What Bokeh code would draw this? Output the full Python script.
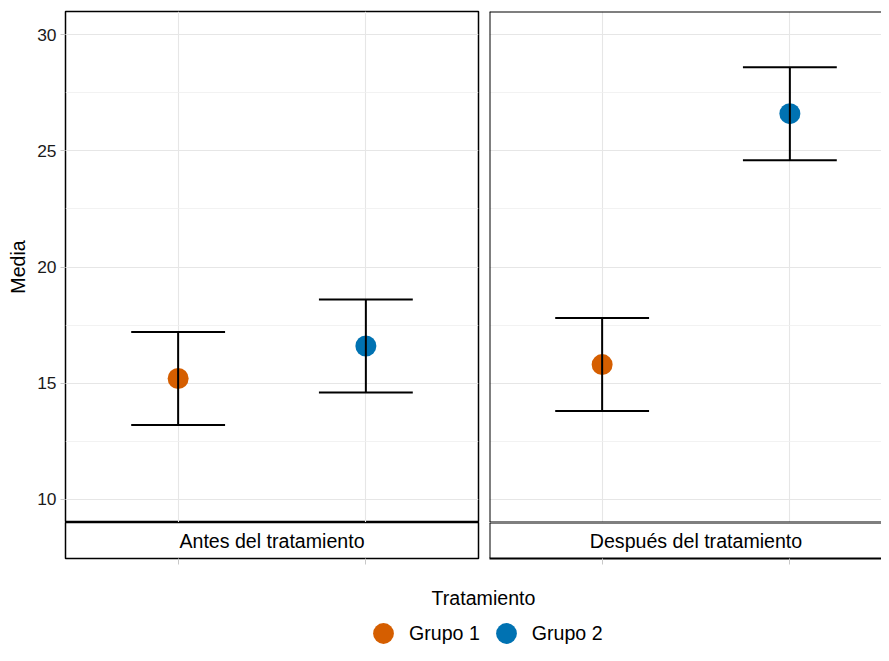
from bokeh.plotting import figure
from bokeh.models import (Range1d, FixedTicker, LinearAxis, Legend, LegendItem,
                          Title, ColumnDataSource)
from bokeh.layouts import row, column
from bokeh.embed import file_html
from bokeh.resources import INLINE
from bokeh.core.properties import value

# ---------------- data ----------------
facets = ["Antes del tratamiento", "Después del tratamiento"]
groups = ["Grupo 1", "Grupo 2"]
means_antes = [15.2, 16.6]
means_despues = [15.8, 26.6]
err_antes = [2.0, 2.0]
err_despues = [2.0, 2.0]
y_ticks = [10, 15, 20, 25, 30]
y_label = "Media"
legend_title = "Tratamiento"
colors = ["#D55E00", "#0072B2"]

# ---------------- style ----------------
FONT = "Liberation Sans"
BIG = "19.6px"
SMALL = "17.4px"
GRID = "#e6e6e6"
MINOR = "#efefef"
TICK = "#c8c8c8"
BORDER_W = 1.5
CAP = 0.5

xpos = [i + 1 for i in range(len(groups))]
X_LO, X_HI = 0.4, len(groups) + 0.6
Y_LO, Y_HI = y_ticks[0] - 0.05 * (y_ticks[-1] - y_ticks[0]), y_ticks[-1] + 0.05 * (y_ticks[-1] - y_ticks[0])
minor_ticks = [(a + b) / 2 for a, b in zip(y_ticks[:-1], y_ticks[1:])]

TOTAL_W = 881
LEFT_W = 487
RIGHT_W = TOTAL_W - LEFT_W
FRAME_W = 413
PANEL_H = 522
STRIP_H = 44
LEGEND_H = 79

yr = Range1d(Y_LO, Y_HI)
xr1 = Range1d(X_LO, X_HI)
xr2 = Range1d(X_LO, X_LO + (X_HI - X_LO) * (RIGHT_W - 2) / FRAME_W)


def border_axis(p, side, loc):
    ax = LinearAxis(fixed_location=loc, ticker=FixedTicker(ticks=[]),
                    major_tick_line_color=None, minor_tick_line_color=None,
                    major_label_text_font_size="0px", major_label_standoff=0,
                    axis_line_color="black", axis_line_width=2)
    p.add_layout(ax, side)


def make_panel(means, errs, xr, width, mb_left, mb_right, first):
    p = figure(width=width, height=PANEL_H, x_range=xr, y_range=yr,
               output_backend="svg", toolbar_location=None,
               x_axis_location=None, y_axis_location="left" if first else None,
               min_border_left=mb_left, min_border_right=mb_right,
               min_border_top=11, min_border_bottom=0)
    p.background_fill_color = "white"
    p.border_fill_color = "white"
    p.ygrid.ticker = FixedTicker(ticks=y_ticks, minor_ticks=minor_ticks)
    p.ygrid.grid_line_color = GRID
    p.ygrid.grid_line_width = 1.1
    p.ygrid.minor_grid_line_color = MINOR
    p.ygrid.minor_grid_line_width = 0.8
    p.xgrid.ticker = FixedTicker(ticks=xpos)
    p.xgrid.grid_line_color = GRID
    p.xgrid.grid_line_width = 1.1

    src = ColumnDataSource(dict(
        x=xpos, y=means, color=colors,
        lo=[m - e for m, e in zip(means, errs)],
        hi=[m + e for m, e in zip(means, errs)],
        x0=[x - CAP / 2 for x in xpos],
        x1=[x + CAP / 2 for x in xpos],
    ))
    p.scatter("x", "y", size=21, fill_color="color", line_color=None, source=src)
    p.segment("x", "lo", "x", "hi", line_color="black", line_width=2, source=src)
    p.segment("x0", "hi", "x1", "hi", line_color="black", line_width=2, source=src)
    p.segment("x0", "lo", "x1", "lo", line_color="black", line_width=2, source=src)

    if first:
        ax = p.yaxis[0]
        ax.ticker = FixedTicker(ticks=y_ticks)
        ax.axis_label = y_label
        ax.axis_label_text_font = FONT
        ax.axis_label_text_font_size = BIG
        ax.axis_label_text_font_style = "normal"
        ax.axis_label_text_color = "black"
        ax.axis_label_standoff = 5
        ax.major_label_text_font = FONT
        ax.major_label_text_font_size = SMALL
        ax.major_label_text_color = "#1a1a1a"
        ax.major_label_standoff = 4
        ax.major_tick_out = 5
        ax.major_tick_in = 0
        ax.major_tick_line_color = TICK
        ax.minor_tick_line_color = None
        ax.axis_line_color = None
        p.outline_line_color = "black"
        p.outline_line_width = BORDER_W
    else:
        p.outline_line_color = None
        border_axis(p, "left", xr.start)
        border_axis(p, "above", Y_HI)
        border_axis(p, "below", Y_LO)
    return p


def make_strip(label, xr, width, mb_left, mb_right, first):
    s = figure(width=width, height=STRIP_H, x_range=xr, y_range=Range1d(0, 1),
               output_backend="svg", toolbar_location=None,
               y_axis_location=None, x_axis_location="below",
               min_border_left=mb_left, min_border_right=mb_right,
               min_border_top=0, min_border_bottom=8)
    s.grid.visible = False
    s.background_fill_color = "white"
    s.border_fill_color = "white"
    ax = s.xaxis[0]
    ax.ticker = FixedTicker(ticks=xpos)
    ax.major_label_overrides = {x: "" for x in xpos}
    ax.major_label_standoff = 0
    ax.major_tick_out = 6
    ax.major_tick_in = 0
    ax.major_tick_line_color = TICK
    ax.minor_tick_line_color = None
    s.text(x=[(X_LO + X_HI) / 2], y=[0.5], text=[label],
           text_align="center", text_baseline="middle",
           text_font=value(FONT), text_font_size=BIG, text_color="black")
    if first:
        ax.axis_line_color = None
        s.outline_line_color = "black"
        s.outline_line_width = BORDER_W
    else:
        ax.axis_line_color = "black"
        ax.axis_line_width = 2
        s.outline_line_color = None
        border_axis(s, "left", xr.start)
        border_axis(s, "above", 1)
    return s


p1 = make_panel(means_antes, err_antes, xr1, LEFT_W, 65, 9, True)
p2 = make_panel(means_despues, err_despues, xr2, RIGHT_W, 2, 0, False)
s1 = make_strip(facets[0], xr1, LEFT_W, 65, 9, True)
s2 = make_strip(facets[1], xr2, RIGHT_W, 2, 0, False)

# ---------------- legend ----------------
LG_LEFT = 85
lg = figure(width=TOTAL_W, height=LEGEND_H, x_range=Range1d(0, 1), y_range=Range1d(0, 1),
            output_backend="svg", toolbar_location=None,
            x_axis_location=None, y_axis_location=None,
            min_border_left=LG_LEFT, min_border_right=0, min_border_top=55, min_border_bottom=0)
lg.grid.visible = False
lg.outline_line_color = None
items = []
for g, c, x, m in zip(groups, colors, xpos, means_antes):
    r = lg.scatter(x=[x], y=[m], size=21, fill_color=c, line_color=None, visible=False)
    items.append(LegendItem(label=g, renderers=[r]))
legend = Legend(items=items, orientation="horizontal", location=(272, -14), margin=0,
                glyph_width=52, glyph_height=52, label_standoff=0, spacing=0,
                padding=10, border_line_color=None, background_fill_alpha=0,
                label_text_font=FONT, label_text_font_size=BIG, label_text_color="black")
lg.add_layout(legend, "center")
lg.add_layout(Title(text=legend_title, align="center", text_font=FONT, text_font_size=BIG,
                    text_font_style="normal", text_color="black", standoff=26), "above")

layout = column(row(column(p1, s1), column(p2, s2)), lg)

open("out.html", "w").write(file_html(layout, INLINE))
